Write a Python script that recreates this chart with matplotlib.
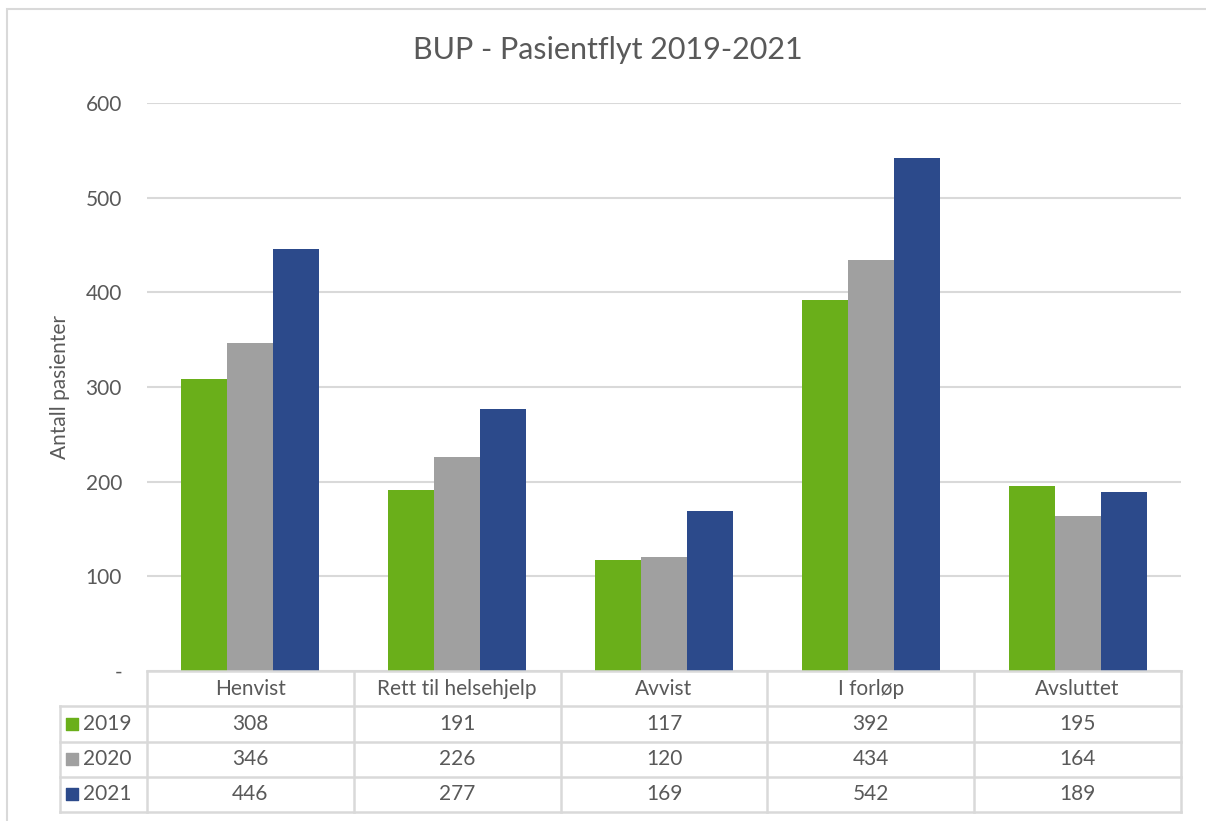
import matplotlib.pyplot as plt
from matplotlib.patches import Rectangle
import numpy as np

categories = ["Henvist", "Rett til helsehjelp", "Avvist", "I forløp", "Avsluttet"]
years = ["2019", "2020", "2021"]
v2019 = [308, 191, 117, 392, 195]
v2020 = [346, 226, 120, 434, 164]
v2021 = [446, 277, 169, 542, 189]
series = [v2019, v2020, v2021]
colors = ["#6AAF1A", "#A0A0A0", "#2C4A8B"]

W, H = 1206, 821
TXT = "#595959"
GRID = "#D9D9D9"
FONT = "Lato"
FS = 15

plt.rcParams["font.family"] = [FONT, "DejaVu Sans"]

fig = plt.figure(figsize=(W / 100, H / 100), dpi=100)

# ramme rundt hele diagrammet
fig.patches.append(Rectangle((7 / W, -0.1), 1.2, 1 - 9 / H + 0.1, transform=fig.transFigure,
                             fill=False, edgecolor=GRID, linewidth=1.5))

# plottområde
ax = fig.add_axes([147 / W, 1 - 671 / H, (1181 - 147) / W, (671 - 103) / H])
x = np.arange(len(categories))
w = 1 / 4.5
for i, vals in enumerate(series):
    ax.bar(x + (i - 1) * w, vals, width=w, color=colors[i], zorder=3)

ax.set_xlim(-0.5, len(categories) - 0.5)
ax.set_ylim(0, 600)
ax.set_yticks(range(0, 601, 100))
ax.set_yticklabels(["-"] + [str(v) for v in range(100, 601, 100)])
ax.set_xticks([])
ax.tick_params(axis="y", length=0, pad=18, labelsize=FS, labelcolor=TXT)
for s in ax.spines.values():
    s.set_visible(False)
ax.grid(axis="y", color=GRID, linewidth=1.5, zorder=0)
ax.set_ylabel("Antall pasienter", fontsize=FS, color=TXT, labelpad=11)

fig.text(0.504, 1 - 50 / H, "BUP - Pasientflyt 2019-2021", ha="center", va="center",
         fontsize=22, color=TXT)

# datatabell under diagrammet
tab = fig.add_axes([60 / W, 1 - 812 / H, (1181 - 60) / W, (812 - 671) / H])
left = -87 / 206.8
tab.set_xlim(left, len(categories))
tab.set_ylim(4, 0)
tab.axis("off")
lk = dict(color=GRID, linewidth=1.8, clip_on=False)
tab.plot([0, len(categories)], [0, 0], **lk)
for r in range(1, 5):
    tab.plot([left, len(categories)], [r, r], **lk)
for c in range(len(categories) + 1):
    tab.plot([c, c], [0, 4], **lk)
tab.plot([left, left], [1, 4], **lk)

for j, cat in enumerate(categories):
    tab.text(j + 0.5, 0.5, cat, ha="center", va="center", fontsize=FS, color=TXT)
for i, (yr, vals) in enumerate(zip(years, series)):
    tab.scatter([left + 12 / 206.8], [i + 1.5], marker="s", s=80, color=colors[i], clip_on=False)
    tab.text(left + 23 / 206.8, i + 1.5, yr, ha="left", va="center", fontsize=FS, color=TXT)
    for j, v in enumerate(vals):
        tab.text(j + 0.5, i + 1.5, str(v), ha="center", va="center", fontsize=FS, color=TXT)

fig.savefig("out.png", dpi=100)
